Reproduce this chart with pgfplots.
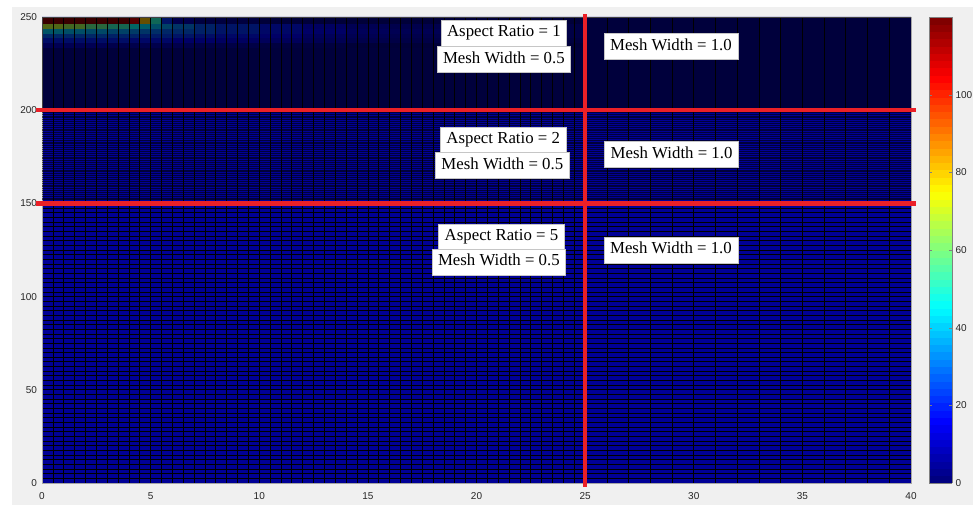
\documentclass[border=0pt]{standalone}
\usepackage{pgfplots}
\usepackage{pgfplotstable}
\pgfplotsset{compat=1.18}
\usepackage{fontspec}
\setmainfont{Liberation Serif}
\newfontfamily\arial{Liberation Sans}

\definecolor{figbg}{RGB}{240,240,240}
\definecolor{ticktext}{RGB}{38,38,38}
\definecolor{cellblue}{RGB}{0,0,150}
\definecolor{zonered}{RGB}{235,32,39}

\pgfplotsset{
  /pgf/number format/assume math mode=true,
  colormap={matjet}{rgb255(0cm)=(0,0,128) rgb255(1cm)=(0,0,255)
    rgb255(3cm)=(0,255,255) rgb255(5cm)=(255,255,0)
    rgb255(7cm)=(255,0,0) rgb255(8cm)=(128,0,0)},
  colormap={jetsteps}{samples of colormap=(64 of matjet)},
  plotframe/.style={at={(42pt,22pt)}, anchor=south west,
    scale only axis, width=869pt, height=466pt,
    xmin=0, xmax=40, ymin=0, ymax=250},
}

% temperature field near the heated edge (cell corners, flat corner shading)
\pgfplotstableread{
x y c
0 234 10
1 234 10
2 234 10
3 234 9
4 234 9
4.5 234 9
5 234 8
5.5 234 8
6 234 8
7 234 7
8 234 6
10 234 5
12 234 4
14 234 3
16 234 3
20 234 2
25 234 2
0 236.5 20
1 236.5 20
2 236.5 19
3 236.5 19
4 236.5 18
4.5 236.5 18
5 236.5 17
5.5 236.5 17
6 236.5 16
7 236.5 15
8 236.5 14
10 236.5 12
12 236.5 10
14 236.5 8
16 236.5 7
20 236.5 5
25 236.5 4
0 239 28
1 239 27
2 239 27
3 239 26
4 239 25
4.5 239 24
5 239 24
5.5 239 23
6 239 22
7 239 20
8 239 18
10 239 15
12 239 12
14 239 10
16 239 8
20 239 6
25 239 5
0 241.5 40
1 241.5 38
2 241.5 36
3 241.5 34
4 241.5 32
4.5 241.5 30
5 241.5 29
5.5 241.5 28
6 241.5 27
7 241.5 25
8 241.5 22
10 241.5 18
12 241.5 15
14 241.5 12
16 241.5 10
20 241.5 7
25 241.5 6
0 244 68
1 244 64
2 244 58
3 244 52
4 244 46
4.5 244 42
5 244 38
5.5 244 34
6 244 30
7 244 26
8 244 22
10 244 18
12 244 14
14 244 11
16 244 9
20 244 6
25 244 5
0 246.5 118
1 246.5 118
2 246.5 118
3 246.5 117
4 246.5 110
4.5 246.5 82
5 246.5 50
5.5 246.5 22
6 246.5 8
7 246.5 5
8 246.5 4
10 246.5 3
12 246.5 2
14 246.5 2
16 246.5 2
20 246.5 2
25 246.5 2
0 250 118
1 250 118
2 250 118
3 250 117
4 250 110
4.5 250 82
5 250 50
5.5 250 22
6 250 8
7 250 5
8 250 4
10 250 3
12 250 2
14 250 2
16 250 2
20 250 2
25 250 2
}\heatfield

% mesh lines: width 0.5 left of x=25, 1.0 right of it;
% row heights 2.5 / 1.0 / 0.5 in the three zones
\def\xmeshlist{0}
\foreach \k in {1,...,50}{\pgfmathsetmacro\v{0.5*\k}\xdef\xmeshlist{\xmeshlist,\v}}
\foreach \k in {26,...,40}{\xdef\xmeshlist{\xmeshlist,\k}}
\def\ymeshlist{0}
\foreach \k in {1,...,60}{\pgfmathsetmacro\v{2.5*\k}\xdef\ymeshlist{\ymeshlist,\v}}
\def\ymidlist{151}
\foreach \k in {152,...,199}{\xdef\ymidlist{\ymidlist,\k}}
\def\ytoplist{200.5}
\foreach \k in {2,...,100}{\pgfmathsetmacro\v{200+0.5*\k}\xdef\ytoplist{\ytoplist,\v}}

\tikzset{zonebox/.style={fill=white, draw=gray!45, line width=0.5pt,
  font=\fontsize{16.8}{18}\selectfont, inner xsep=6pt, inner ysep=5.3pt,
  text height=11.6pt, text depth=3.8pt}}

\begin{document}
\begin{tikzpicture}
\fill[white] (0,0) rectangle (973pt,505pt);
\fill[figbg] (12pt,0) rectangle (973pt,498pt);

% field with its mesh lines on top
\begin{axis}[
  plotframe,
  axis on top,
  xtick={0,5,...,40}, ytick={0,50,...,250},
  minor xtick/.expanded={\xmeshlist},
  minor ytick/.expanded={\ymeshlist},
  grid=minor,
  minor grid style={black, line width=0.7pt},
  extra y ticks/.expanded={\ytoplist},
  extra y tick labels={},
  extra y tick style={grid=major,
    major grid style={black, opacity=0.6, line width=0.3pt}},
  major tick length=0pt, minor tick length=0pt,
  tick label style={font=\arial\fontsize{10}{12}\selectfont, text=ticktext},
  xticklabel style={yshift=-6pt},
  yticklabel style={xshift=-1.5pt},
  axis line style={draw=gray!70},
  colormap name=jetsteps,
  colormap access=piecewise constant,
  point meta min=0, point meta max=120,
  colorbar,
  colorbar style={
    at={(parent axis.north east)}, anchor=north west, xshift=9.5pt,
    width=23pt,
    ytick={0,20,...,100},
    yticklabel style={font=\arial\fontsize{10}{12}\selectfont, text=ticktext},
    axis line style={draw=gray},
    major tick length=3pt,
  },
]
% uniform cold region
\addplot[draw=none, fill=cellblue]
  coordinates {(0,0) (40,0) (40,250) (0,250)} \closedcycle;
% heated corner
\addplot[surf, shader=flat corner, mesh/cols=17,
  point meta=explicit] table[x=x, y=y, meta=c] {\heatfield};
\end{axis}

% middle-zone mesh rows, zone boundaries and zone labels
\begin{axis}[plotframe, clip=false,
  axis line style={draw=none},
  xtick=\empty,
  ytick/.expanded={\ymidlist}, yticklabels={},
  major tick length=0pt,
  grid=major, major grid style={black, opacity=0.6, line width=0.5pt},
]
\addplot[zonered, line width=4.3pt] coordinates {(-0.28,200) (40.23,200)};
\addplot[zonered, line width=4.3pt] coordinates {(-0.28,150) (40.23,150)};
\addplot[zonered, line width=4.3pt] coordinates {(25,-2.1) (25,251.6)};

\node[zonebox] at (axis cs:21.26,241.4) {Aspect Ratio = 1};
\node[zonebox] at (axis cs:21.26,227.1) {Mesh Width = 0.5};
\node[zonebox] at (axis cs:28.95,234.1) {Mesh Width = 1.0};
\node[zonebox] at (axis cs:21.23,184.0) {Aspect Ratio = 2};
\node[zonebox] at (axis cs:21.19,170.3) {Mesh Width = 0.5};
\node[zonebox] at (axis cs:28.98,176.4) {Mesh Width = 1.0};
\node[zonebox] at (axis cs:21.15,132.1) {Aspect Ratio = 5};
\node[zonebox] at (axis cs:21.03,118.6) {Mesh Width = 0.5};
\node[zonebox] at (axis cs:28.95,125.0) {Mesh Width = 1.0};
\end{axis}
\pgfresetboundingbox
\useasboundingbox (0,0) rectangle (973pt,505pt);
\end{tikzpicture}
\end{document}
